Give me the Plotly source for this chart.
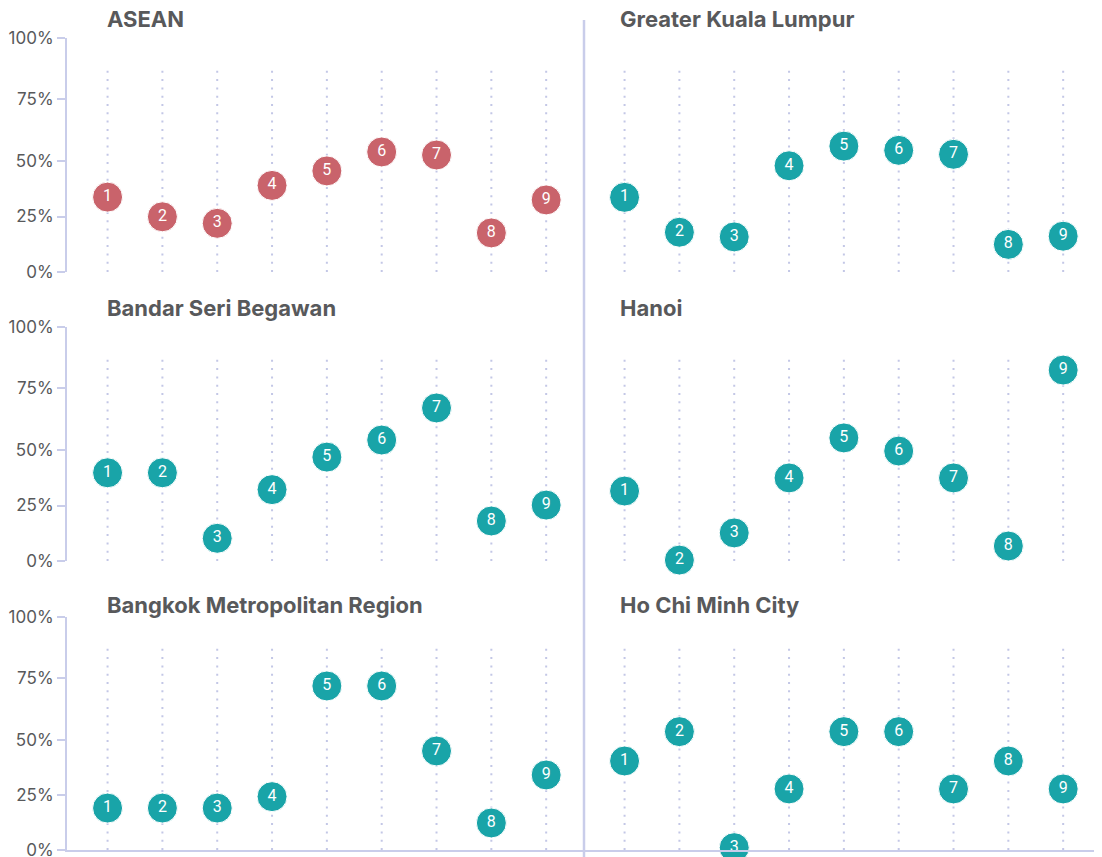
import plotly.graph_objects as go
from plotly.subplots import make_subplots

categories = [1, 2, 3, 4, 5, 6, 7, 8, 9]
point_labels = ["1", "2", "3", "4", "5", "6", "7", "8", "9"]

panel_titles = ["ASEAN", "Greater Kuala Lumpur", "Bandar Seri Begawan", "Hanoi",
                "Bangkok Metropolitan Region", "Ho Chi Minh City"]

asean = [0.32, 0.236, 0.208, 0.37, 0.432, 0.513, 0.50, 0.167, 0.308]
greater_kuala_lumpur = [0.319, 0.170, 0.150, 0.454, 0.538, 0.520, 0.503, 0.118, 0.153]
bandar_seri_begawan = [0.377, 0.377, 0.097, 0.305, 0.444, 0.517, 0.654, 0.171, 0.239]
hanoi = [0.299, 0.004, 0.12, 0.355, 0.526, 0.47, 0.355, 0.064, 0.816]
bangkok = [0.18, 0.18, 0.18, 0.229, 0.704, 0.704, 0.425, 0.116, 0.322]
ho_chi_minh_city = [0.382, 0.508, 0.01, 0.262, 0.508, 0.508, 0.262, 0.382, 0.262]

# tick marks sit where the reference draws them along the axis
ytick_vals = [0, 0.237, 0.473, 0.738, 1.0]
ytick_text = ["0%", "25%", "50%", "75%", "100%"]
guide_top = 0.875

series = [asean, greater_kuala_lumpur, bandar_seri_begawan, hanoi, bangkok, ho_chi_minh_city]
colors = ["#c9636b", "#19a4a8", "#19a4a8", "#19a4a8", "#19a4a8", "#19a4a8"]

# page is offset by the browser's 8px body margin
OFF = 8
PAGE_W, PAGE_H = 1102, 857
W, H = PAGE_W - OFF, PAGE_H - OFF
PL, PR, PT, PB = 67, 1101, 38, 850   # plot area in page pixels
ML, MR, MT, MB = PL - OFF, PAGE_W - PR, PT - OFF, PAGE_H - PB
PW, PH = PR - PL, PB - PT
AX = "#c9cdea"
DOT = "#c3c7e6"
TXT = "#58595b"

def py(p):  # page pixel y -> paper
    return (PB - p) / PH

def px(p):
    return (p - PL) / PW

fig = make_subplots(rows=3, cols=2, horizontal_spacing=0, vertical_spacing=0.06)

row_domains = [[py(272), py(38)], [py(561), py(327)], [py(850), py(617)]]

for i, vals in enumerate(series):
    r, c = i // 2 + 1, i % 2 + 1
    gx, gy = [], []
    for cat in categories:
        gx += [cat, cat, None]
        gy += [0, guide_top, None]
    fig.add_trace(go.Scatter(x=gx, y=gy, mode="lines", hoverinfo="skip", showlegend=False,
                             line=dict(color=DOT, width=2, dash="2px,6.3px")), row=r, col=c)
    fig.add_trace(go.Scatter(
        x=categories, y=vals, mode="markers+text", text=point_labels,
        textposition="middle center", cliponaxis=False, showlegend=False,
        textfont=dict(family="Roboto", size=16, color="white"),
        marker=dict(size=30, color=colors[i], line=dict(color="white", width=1))),
        row=r, col=c)

for r in range(1, 4):
    for c in range(1, 3):
        fig.update_xaxes(range=[0.26, 9.69], showgrid=False, zeroline=False,
                         showticklabels=False, ticks="", automargin=False,
                         domain=[0, 0.5] if c == 1 else [0.5, 1.0],
                         showline=(r == 3), linecolor=AX, linewidth=2,
                         row=r, col=c)
        common = dict(range=[0, 1], showgrid=False, zeroline=False, domain=row_domains[r - 1],
                      showline=True, linecolor=AX, linewidth=2, automargin=False)
        if c == 1:
            fig.update_yaxes(tickvals=ytick_vals, ticktext=ytick_text, ticks="outside",
                             ticklen=8, tickwidth=2, tickcolor=AX, ticklabeloverflow="allow",
                             tickfont=dict(family="Inter", size=17, color=TXT),
                             row=r, col=c, **common)
        else:
            fig.update_yaxes(side="right", showticklabels=False, ticks="",
                             row=r, col=c, **common)

title_pos = [(105, 19), (618, 19), (105, 308), (618, 308), (105, 605), (618, 605)]
for t, (x0, y0) in zip(panel_titles, title_pos):
    fig.add_annotation(text="<b>" + t + "</b>", xref="paper", yref="paper",
                       x=px(x0), y=py(y0), xanchor="left", yanchor="middle",
                       showarrow=False, font=dict(family="Inter", size=22, color=TXT))

fig.add_shape(type="line", xref="paper", yref="paper", x0=0.5, x1=0.5,
              y0=py(857), y1=py(20), line=dict(color=AX, width=2.5), layer="below")

fig.update_layout(width=W, height=H, margin=dict(l=ML, r=MR, t=MT, b=MB, autoexpand=False),
                  plot_bgcolor="white", paper_bgcolor="white", showlegend=False)

fig.write_html("out.html")
